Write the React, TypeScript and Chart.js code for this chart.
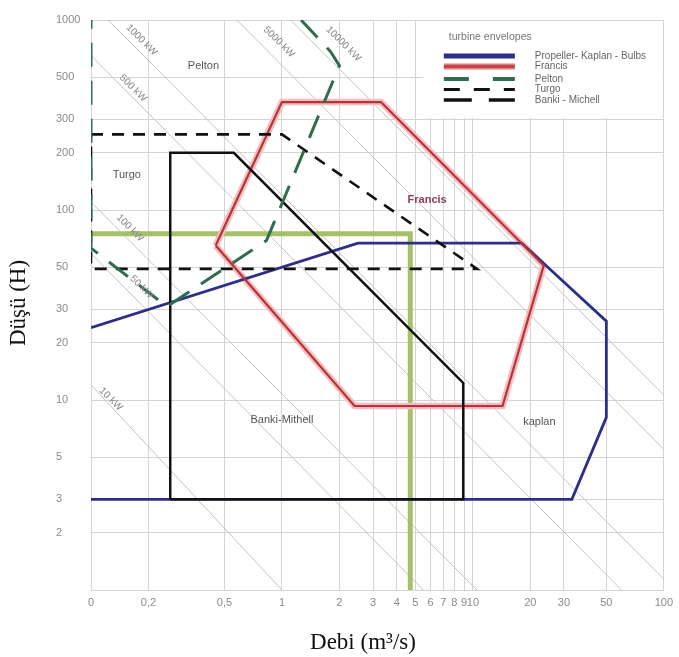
import React, { useEffect, useRef } from 'react';
import { Chart, registerables } from 'chart.js';

Chart.register(...registerables);

// ---------- axis ticks ----------
const xTickValues = [0.1, 0.2, 0.5, 1, 2, 3, 4, 5, 6, 7, 8, 9, 10, 20, 30, 50, 100];
const xTickLabels = ['0', '0,2', '0,5', '1', '2', '3', '4', '5', '6', '7', '8', '9', '10', '20', '30', '50', '100'];
const yTickValues = [1, 2, 3, 5, 10, 20, 30, 50, 100, 200, 300, 500, 1000];
const yTickLabels = ['', '2', '3', '5', '10', '20', '30', '50', '100', '200', '300', '500', '1000'];

// ---------- turbine envelopes (Q in m3/s, H in m) ----------
const kaplanQ = [0.1, 2.5, 18, 50, 50, 33, 0.1];
const kaplanH = [24, 67, 67, 26, 8.1, 3, 3];
const francisQ = [0.45, 1.0, 3.3, 23.5, 14.3, 2.4, 0.45];
const francisH = [65, 370, 370, 51, 9.3, 9.3, 65];
const peltonQ = [1.26, 1.8, 2.0, 0.83, 0.25, 0.1, 0.1];
const peltonH = [1000, 680, 575, 69, 31, 63, 1000];
const turgoQ = [0.1, 1.0, 10.5, 0.1, 0.1];
const turgoH = [250, 250, 49, 49, 250];
const bankiQ = [0.26, 0.26, 0.56, 8.9, 8.9, 0.26];
const bankiH = [3, 200, 200, 12.3, 3, 3];
const siteQ = [0.1, 4.7, 4.7];
const siteH = [75, 75, 1];

// ---------- iso-power lines ----------
const powerLabels = ['10 kW', '50 kW', '100 kW', '500 kW', '1000 kW', '5000 kW', '10000 kW'];
const powerLineQ = [[0.1, 1.0], [0.1, 5.5], [0.1, 10.5], [0.1, 60], [0.123, 100], [0.58, 100], [1.11, 100]];
const powerLineH = [[12, 1], [59, 1], [110, 1], [650, 1], [1000, 1.14], [1000, 5.5], [1000, 10.6]];
const powerLabelQ = [0.127, 0.184, 0.16, 0.166, 0.184, 0.965, 2.1];
const powerLabelH = [10.1, 39.3, 80.4, 438, 785, 766, 748];

// ---------- region names ----------
const regionNames = ['Pelton', 'Turgo', 'Francis', 'Banki-Mithell', 'kaplan'];
const regionQ = [0.388, 0.154, 5.76, 1.0, 22.3];
const regionH = [572, 153, 113, 7.85, 7.66];

// ---------- legend ----------
const legendTitle = 'turbine envelopes';
const legendNames = ['Propeller- Kaplan - Bulbs', 'Francis', 'Pelton', 'Turgo', 'Banki - Michell'];
const legendBoxQ = [5.5, 100];
const legendBoxH = [300, 1000];

const xTitle = 'Debi (m³/s)';
const yTitle = 'Düşü (H)';

const SANS = "'Liberation Sans', Arial, sans-serif";
const SERIF = "'Liberation Serif', 'Times New Roman', serif";

const NAVY = '#2d2e8a';
const RED = '#b3353b';
const PINK = '#f6bcbc';
const GREEN = '#2f6d4e';
const SITE = 'rgba(160,190,95,0.95)';
const GRID = '#d4d4d4';

const pts = (qs: number[], hs: number[]) => qs.map((q, i) => ({ x: q, y: hs[i] }));

function ds(label: string, data: any[], color: string, width: number, dash: number[], order: number) {
  return {
    label,
    data,
    borderColor: color,
    backgroundColor: color,
    borderWidth: width,
    borderDash: dash,
    pointRadius: 0,
    pointHoverRadius: 0,
    fill: false,
    tension: 0,
    order,
  };
}

const annotPlugin = {
  id: 'annot',
  beforeDatasetsDraw(chart: any) {
    const { ctx, scales } = chart;
    const x = scales.x;
    const y = scales.y;
    const x1 = x.getPixelForValue(legendBoxQ[0]);
    const x2 = x.getPixelForValue(legendBoxQ[1]);
    const y1 = y.getPixelForValue(legendBoxH[1]);
    const y2 = y.getPixelForValue(legendBoxH[0]);
    ctx.save();
    ctx.fillStyle = '#ffffff';
    ctx.fillRect(x1, y1 + 1.5, x2 - x1 - 1.5, y2 - y1 - 3);
    ctx.restore();
  },
  afterDatasetsDraw(chart: any) {
    const { ctx, scales, chartArea } = chart;
    const x = scales.x;
    const y = scales.y;
    ctx.save();
    // power labels
    ctx.fillStyle = '#858585';
    ctx.font = `10px ${SANS}`;
    ctx.textAlign = 'center';
    ctx.textBaseline = 'middle';
    powerLabels.forEach((t, i) => {
      const px = x.getPixelForValue(powerLabelQ[i]);
      const py = y.getPixelForValue(powerLabelH[i]);
      ctx.save();
      ctx.translate(px, py);
      ctx.rotate(Math.PI / 4);
      ctx.fillText(t, 0, 0);
      ctx.restore();
    });
    // region names
    regionNames.forEach((t, i) => {
      const px = x.getPixelForValue(regionQ[i]);
      const py = y.getPixelForValue(regionH[i]);
      if (t === 'Francis') {
        ctx.fillStyle = '#8e3b5e';
        ctx.font = `bold 11px ${SANS}`;
      } else {
        ctx.fillStyle = '#555555';
        ctx.font = `11px ${SANS}`;
      }
      ctx.fillText(t, px, py);
    });
    // legend
    const lx = chartArea.right - 220;
    const ly = chartArea.top;
    ctx.textAlign = 'left';
    ctx.fillStyle = '#777777';
    ctx.font = `10.5px ${SANS}`;
    ctx.fillText(legendTitle, lx + 5, ly + 17);
    const rows = [36, 46.5, 59, 69.5, 80];
    const swW = 71;
    const drawSw = (yy: number, color: string, w: number, dash: number[]) => {
      ctx.beginPath();
      ctx.setLineDash(dash);
      ctx.strokeStyle = color;
      ctx.lineWidth = w;
      ctx.moveTo(lx, ly + yy);
      ctx.lineTo(lx + swW, ly + yy);
      ctx.stroke();
    };
    drawSw(rows[0], NAVY, 5, []);
    drawSw(rows[1], PINK, 7, []);
    drawSw(rows[1], '#c0454a', 4, []);
    drawSw(rows[2], GREEN, 4, [25, 24]);
    drawSw(rows[3], '#111111', 3, [16, 14]);
    drawSw(rows[4], '#111111', 3.5, [28, 17]);
    ctx.setLineDash([]);
    ctx.fillStyle = '#666666';
    ctx.font = `10px ${SANS}`;
    legendNames.forEach((t, i) => {
      ctx.fillText(t, lx + 91, ly + rows[i]);
    });
    ctx.restore();
  },
  afterDraw(chart: any) {
    const { ctx } = chart;
    ctx.save();
    ctx.fillStyle = '#111111';
    ctx.font = `23px ${SERIF}`;
    ctx.textAlign = 'center';
    ctx.textBaseline = 'middle';
    ctx.fillText(xTitle, 363, 643);
    ctx.translate(19, 303);
    ctx.rotate(-Math.PI / 2);
    ctx.fillText(yTitle, 0, 0);
    ctx.restore();
  },
};

export default function App() {
  const ref = useRef<HTMLCanvasElement>(null);
  useEffect(() => {
    Chart.defaults.font.family = SANS;
    const datasets: any[] = [];
    powerLabels.forEach((p, i) => {
      datasets.push(ds(p, pts(powerLineQ[i], powerLineH[i]), '#c4c4c4', 1, [], 20));
    });
    datasets.push(ds('site', pts(siteQ, siteH), SITE, 5, [], 15));
    datasets.push(ds('Francis halo', pts(francisQ, francisH), PINK, 6.5, [], 12));
    datasets.push(ds('Propeller- Kaplan - Bulbs', pts(kaplanQ, kaplanH), NAVY, 2.8, [], 10));
    datasets.push(ds('Francis', pts(francisQ, francisH), RED, 2.2, [], 9));
    datasets.push(ds('Banki - Michell', pts(bankiQ, bankiH), '#111111', 2.5, [], 8));
    datasets.push(ds('Turgo', pts(turgoQ, turgoH), '#111111', 2.6, [12, 9], 7));
    datasets.push(ds('Pelton', pts(peltonQ, peltonH), GREEN, 3, [24, 14], 6));

    const chart = new Chart(ref.current as HTMLCanvasElement, {
      type: 'line',
      data: { datasets },
      options: {
        animation: false,
        responsive: true,
        maintainAspectRatio: false,
        events: [],
        layout: { padding: { left: 56, right: 12, top: 20, bottom: 0 } },
        plugins: { legend: { display: false }, tooltip: { enabled: false }, title: { display: false } },
        scales: {
          x: {
            type: 'logarithmic',
            min: 0.1,
            max: 100,
            afterBuildTicks: (s: any) => {
              s.ticks = xTickValues.map((v) => ({ value: v }));
            },
            afterFit: (s: any) => {
              s.height = 67;
            },
            grid: { color: GRID, lineWidth: 1, drawTicks: false },
            border: { color: GRID },
            ticks: {
              autoSkip: false,
              maxRotation: 0,
              minRotation: 0,
              padding: 6,
              color: '#8a8a8a',
              font: { size: 11, family: SANS },
              callback: (_v: any, i: number) => xTickLabels[i],
            },
          },
          y: {
            type: 'logarithmic',
            min: 1,
            max: 1000,
            afterBuildTicks: (s: any) => {
              s.ticks = yTickValues.map((v) => ({ value: v }));
            },
            afterFit: (s: any) => {
              s.width = 35;
            },
            grid: { color: GRID, lineWidth: 1, drawTicks: false },
            border: { color: GRID },
            ticks: {
              autoSkip: false,
              crossAlign: 'far',
              padding: 4,
              color: '#8a8a8a',
              font: { size: 11, family: SANS },
              callback: (_v: any, i: number) => yTickLabels[i],
            },
          },
        },
      } as any,
      plugins: [annotPlugin],
    });
    return () => chart.destroy();
  }, []);
  return (
    <div style={{ position: 'absolute', left: 0, top: 0, width: 679, height: 657, background: '#ffffff' }}>
      <canvas ref={ref} />
    </div>
  );
}
